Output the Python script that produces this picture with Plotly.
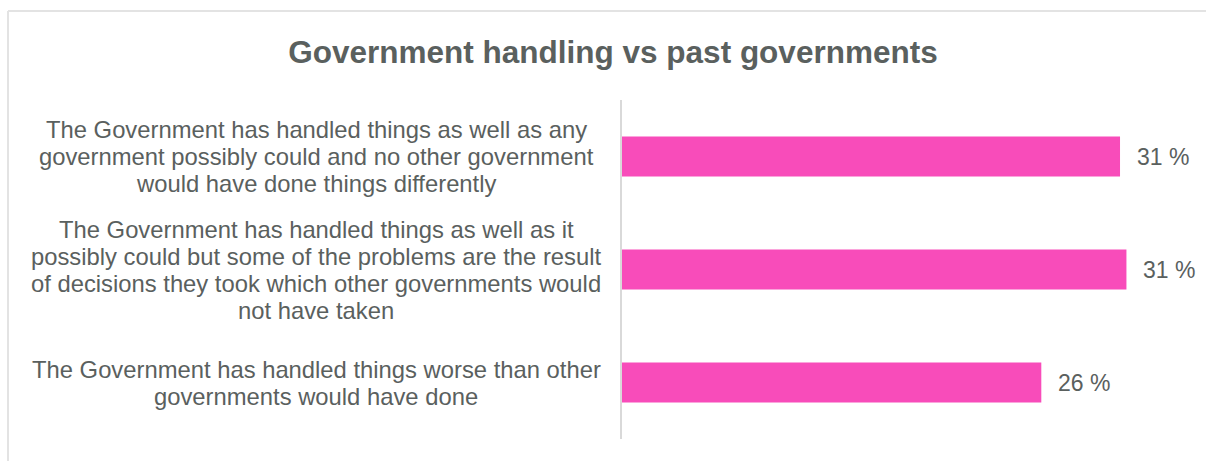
import plotly.graph_objects as go

# Survey responses (top to bottom) and share of respondents, %
categories = [
    "Handled as well as any government could",
    "Handled as well as it could, some problems of its own making",
    "Handled worse than other governments",
]
label_lines = [
    ["The Government has handled things as well as any",
     "government possibly could and no other government",
     "would have done things differently"],
    ["The Government has handled things as well as it",
     "possibly could but some of the problems are the result",
     "of decisions they took which other governments would",
     "not have taken"],
    ["The Government has handled things worse than other",
     "governments would have done"],
]
values = [31.0, 31.4, 26.1]

TEXT = "#5a605e"
PINK = "#f84cba"
GRID = "#d9d9d9"
FONT = "Liberation Sans, Arial, sans-serif"

W, H = 1206, 461
L, R, T, B = 622, 10, 100, 22

fig = go.Figure(
    go.Bar(
        x=values,
        y=categories,
        orientation="h",
        marker=dict(color=PINK, line=dict(width=0)),
        hoverinfo="skip",
    )
)

annotations = []
# value labels just past the bar ends
for cat, v in zip(categories, values):
    annotations.append(dict(
        x=v, y=cat, xref="x", yref="y", text=f"{round(v)} %",
        showarrow=False, xanchor="left", yanchor="middle", xshift=15,
        font=dict(family=FONT, size=23, color=TEXT),
    ))
# centred, multi-line category labels
LINE_H = 27
for cat, lines in zip(categories, label_lines):
    n = len(lines)
    for i, line in enumerate(lines):
        annotations.append(dict(
            x=0, y=cat, xref="x", yref="y", text=line,
            showarrow=False, xanchor="center", yanchor="middle",
            xshift=316 - L, yshift=((n - 1) / 2 - i) * LINE_H,
            font=dict(family=FONT, size=23.8, color=TEXT),
        ))

pw, ph = W - L - R, H - T - B
# light outer frame (left and top edges)
shapes = [
    dict(type="line", xref="paper", yref="paper",
         x0=(8 - L) / pw, x1=(W + 20 - L) / pw,
         y0=(H - B - 11) / ph, y1=(H - B - 11) / ph,
         line=dict(color="#e3e3e3", width=2)),
    dict(type="line", xref="paper", yref="paper",
         x0=(8 - L) / pw, x1=(8 - L) / pw,
         y0=(H - B - 11) / ph, y1=-(B + 20) / ph,
         line=dict(color="#e3e3e3", width=2)),
]

fig.update_layout(
    width=W, height=H,
    margin=dict(l=L, r=R, t=T, b=B, pad=0),
    paper_bgcolor="white", plot_bgcolor="white",
    showlegend=False,
    bargap=0.646,
    title=dict(
        text="<b>Government handling vs past governments</b>",
        x=613 / W, xref="container", xanchor="center",
        y=1 - 52 / H, yref="container", yanchor="middle",
        font=dict(family=FONT, size=31.5, color=TEXT),
    ),
    xaxis=dict(range=[0, pw / 16.065], visible=False, fixedrange=True),
    yaxis=dict(
        autorange="reversed", showticklabels=False, ticks="",
        showline=True, linecolor=GRID, linewidth=2, showgrid=False,
        zeroline=False, fixedrange=True,
    ),
    annotations=annotations,
    shapes=shapes,
)

fig.write_html("out.html")
